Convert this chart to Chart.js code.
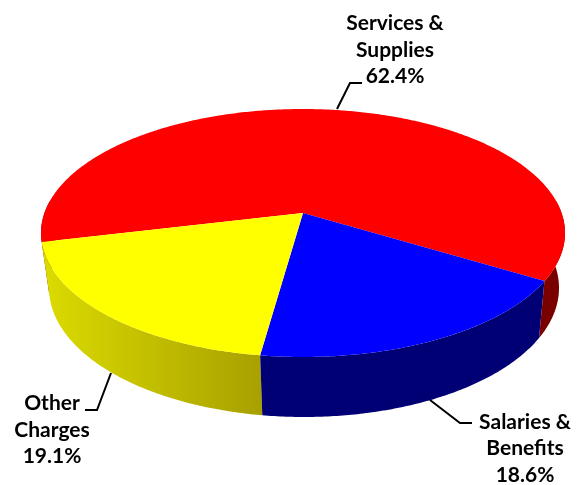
<!DOCTYPE html>
<html><head><meta charset="utf-8">
<script src="https://cdn.jsdelivr.net/npm/chart.js@4"></script>
<style>html,body{margin:0;padding:0;background:#fff}canvas{display:block}</style>
</head><body><canvas id="c" width="584" height="485"></canvas>
<script>
const categories = ["Services & Supplies", "Salaries & Benefits", "Other Charges"];
const values = [62.4, 18.6, 19.1];
const topColors = ["#ff0000", "#0000ff", "#ffff00"];
const wallStops = [["#7a0000", "#6a0000"], ["#000074", "#000068"], ["#dcdc00", "#a8a000"]];
const labelLines = [["Services &", "Supplies", "62.4%"], ["Salaries &", "Benefits", "18.6%"], ["Other", "Charges", "19.1%"]];

const FONT = "700 21px Lato, sans-serif";
const topE = {cx: 303, cy: 233, rx: 262, ry: 124};
const botE = {cx: 304, cy: 288, rx: 255, ry: 129};
const TILT = -0.161;               // perspective shift of the pie centre
const labelPos = [{x: 395, y: [23, 50, 76]}, {x: 525, y: [422, 448, 475]}, {x: 52, y: [403, 430, 456]}];
const leaders = [[[337,109],[350,83],[362,83]], [[430,400],[460,423],[472,423]], [[111,373],[97,410],[85,410]]];

function project(e, a) {
  const c = Math.cos(a), s = Math.sin(a), d = 1 + TILT * s;
  return [e.cx + e.rx * c * Math.sqrt(1 - TILT * TILT) / d, e.cy + e.ry * (s + TILT) / d];
}
function arcPts(e, a0, a1) {
  const n = Math.max(2, Math.ceil(Math.abs(a1 - a0) / 0.01)), out = [];
  for (let i = 0; i <= n; i++) out.push(project(e, a0 + (a1 - a0) * i / n));
  return out;
}
function fillPath(ctx, pts, style) {
  ctx.beginPath();
  pts.forEach((p, i) => i ? ctx.lineTo(p[0], p[1]) : ctx.moveTo(p[0], p[1]));
  ctx.closePath();
  ctx.fillStyle = style;
  ctx.fill();
}
const pie3d = {
  id: "pie3d",
  beforeDatasetsDraw(chart) {
    const ctx = chart.ctx, arcs = chart.getDatasetMeta(0).data, T = Math.PI * 2;
    ctx.save();
    // walls, only the part of each slice that faces the viewer
    [0, 2, 1].forEach(i => {
      const arc = arcs[i];
      const s = arc.startAngle, e = arc.endAngle;
      const ranges = [];
      for (const k of [-1, 0, 1]) {
        const a = Math.max(s, k * T - 0.1), b = Math.min(e, k * T + Math.PI + 0.1);
        if (b > a) ranges.push([a, b]);
      }
      const g = ctx.createLinearGradient(40, 0, 262, 0);
      if (i === 2) { g.addColorStop(0, wallStops[i][0]); g.addColorStop(1, wallStops[i][1]); }
      ranges.forEach(r => {
        const a = arcPts(topE, r[0], r[1]), b = arcPts(botE, r[0], r[1]).reverse();
        fillPath(ctx, a.concat(b), i === 2 ? g : wallStops[i][0]);
      });
    });
    // top faces
    arcs.forEach(arc => {
      const pts = arcPts(topE, arc.startAngle, arc.endAngle);
      pts.push([topE.cx, topE.cy + topE.ry * TILT]);
      fillPath(ctx, pts, arc.options.backgroundColor);
    });
    // leaders and labels
    ctx.strokeStyle = "#000"; ctx.lineWidth = 2; ctx.lineJoin = "miter";
    leaders.forEach(l => {
      ctx.beginPath();
      l.forEach((p, i) => i ? ctx.lineTo(p[0], p[1]) : ctx.moveTo(p[0], p[1]));
      ctx.stroke();
    });
    ctx.fillStyle = "#000"; ctx.font = FONT; ctx.textAlign = "center"; ctx.textBaseline = "middle";
    labelLines.forEach((lines, i) => lines.forEach((t, j) => ctx.fillText(t, labelPos[i].x, labelPos[i].y[j])));
    ctx.restore();
    return false;
  }
};
new Chart(document.getElementById("c"), {
  type: "pie",
  data: {labels: categories, datasets: [{data: values, backgroundColor: topColors, borderWidth: 0}]},
  options: {
    responsive: false, animation: false, rotation: 256.7,
    plugins: {legend: {display: false}, tooltip: {enabled: false}}
  },
  plugins: [pie3d]
});
</script></body></html>
